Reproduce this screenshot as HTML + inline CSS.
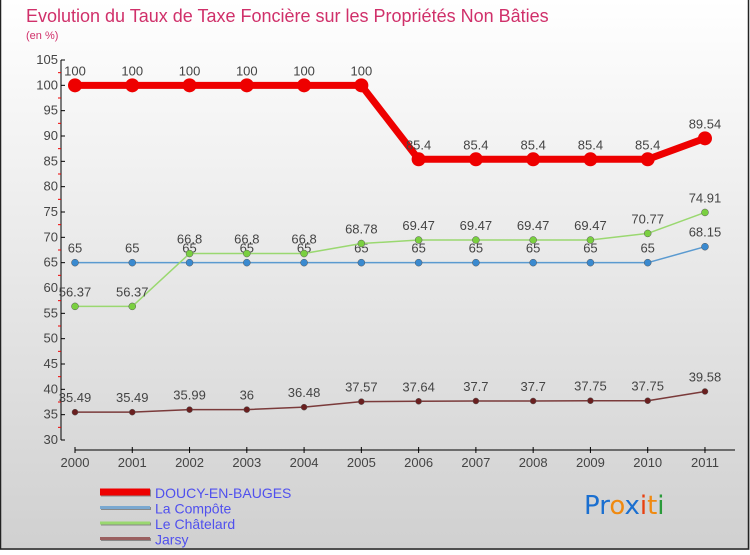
<!DOCTYPE html>
<html><head><meta charset="utf-8"><style>
body{margin:0;width:750px;height:550px;overflow:hidden;font-family:"Liberation Sans",sans-serif}
</style></head><body>
<svg width="750" height="550" xmlns="http://www.w3.org/2000/svg">
<defs><linearGradient id="bg" x1="0" y1="0" x2="0" y2="1"><stop offset="0" stop-color="#ffffff"/><stop offset="1" stop-color="#d0d0d0"/></linearGradient></defs>
<rect x="0" y="0" width="750" height="550" fill="url(#bg)"/>
<rect x="0.5" y="-1" width="748" height="550" fill="none" stroke="#222" stroke-width="1.5"/>
<text x="26" y="22" font-size="18" fill="#d0306a">Evolution du Taux de Taxe Foncière sur les Propriétés Non Bâties</text>
<text x="26" y="39" font-size="11" fill="#d0306a">(en %)</text>
<g id="axes"></g><g id="series"></g><g id="legend"></g>
<text x="584" y="514" font-size="26" font-family="'DejaVu Sans',sans-serif"><tspan fill="#1a6fd0">Pr</tspan><tspan fill="#f08a10">o</tspan><tspan fill="#1a6fd0">x</tspan><tspan fill="#e84010">i</tspan><tspan fill="#f08a10">t</tspan><tspan fill="#2a9a3a">i</tspan></text>
</svg>
<script>
const years=[2000,2001,2002,2003,2004,2005,2006,2007,2008,2009,2010,2011];
const doucy=[100,100,100,100,100,100,85.4,85.4,85.4,85.4,85.4,89.54];
const compote=[65,65,65,65,65,65,65,65,65,65,65,68.15];
const chatelard=[56.37,56.37,66.8,66.8,66.8,68.78,69.47,69.47,69.47,69.47,70.77,74.91];
const jarsy=[35.49,35.49,35.99,36,36.48,37.57,37.64,37.7,37.7,37.75,37.75,39.58];
const yTicks=[30,35,40,45,50,55,60,65,70,75,80,85,90,95,100,105];
const NS="http://www.w3.org/2000/svg";
const xs=i=>75+i*57.27, ys=v=>440-(v-30)*(380/75);
function mk(p,t,a){const e=document.createElementNS(NS,t);for(const k in a)e.setAttribute(k,a[k]);p.appendChild(e);return e;}
const ax=document.getElementById('axes');
let l=mk(ax,'line',{x1:61,y1:60,x2:61,y2:440,stroke:'#000'});


yTicks.forEach(v=>{const y=ys(v);
mk(ax,'line',{x1:61,y1:y,x2:65,y2:y,stroke:'#000'});
if(v<105){mk(ax,'line',{x1:58,y1:ys(v+2.5),x2:61,y2:ys(v+2.5),stroke:'#e00'});}
const t=mk(ax,'text',{x:58,y:y+4,'font-size':13,fill:'#444','text-anchor':'end'});t.textContent=v;

});
l=mk(ax,'line',{x1:75,y1:450,x2:735,y2:450,stroke:'#000'});


years.forEach((yr,i)=>{const x=xs(i);mk(ax,'line',{x1:x,y1:447,x2:x,y2:453,stroke:'#000'});
const t=mk(ax,'text',{x:x,y:467,'font-size':13,fill:'#444','text-anchor':'middle'});t.textContent=yr;

});
const sg=document.getElementById('series');
function series(data,name,col,w,r,fill){const g=mk(sg,'g',{});


mk(g,'polyline',{points:data.map((v,i)=>xs(i)+','+ys(v)).join(' '),fill:'none',stroke:col,'stroke-width':w,'stroke-linejoin':'round'});
data.forEach((v,i)=>{const c=mk(g,'circle',{cx:xs(i),cy:ys(v),r:r,fill:fill,stroke:w>3?'none':'#555','stroke-width':0.5});


const t=mk(g,'text',{x:xs(i),y:ys(v)-10,'font-size':13,fill:'#444','text-anchor':'middle'});t.textContent=v;

});}
series(jarsy,'jarsy','#7a3a3a',1.5,3,'#6a1f1f');
series(compote,'la-compote','#5a9ad0',1.5,3.5,'#3a8ad0');
series(chatelard,'le-chatelard','#9ad870',1.5,3.5,'#7ad040');
series(doucy,'doucy','#ee0000',7,7,'#ee0000');
const lg=document.getElementById('legend');
[['DOUCY-EN-BAUGES','#ee0000',7],['La Compôte','#7aa8d0',3],['Le Châtelard','#9ad870',3],['Jarsy','#9a6060',3]].forEach((d,i)=>{const y=492+i*15.5;
const g=mk(lg,'g',{});


mk(g,'line',{x1:101,y1:y+1,x2:151,y2:y+1,stroke:'#888','stroke-width':d[2]});
mk(g,'line',{x1:100,y1:y,x2:150,y2:y,stroke:d[1],'stroke-width':d[2]});
const t=mk(g,'text',{x:155,y:y+6,'font-size':14,fill:'#5050ee'});t.textContent=d[0];});
</script>
</body></html>
